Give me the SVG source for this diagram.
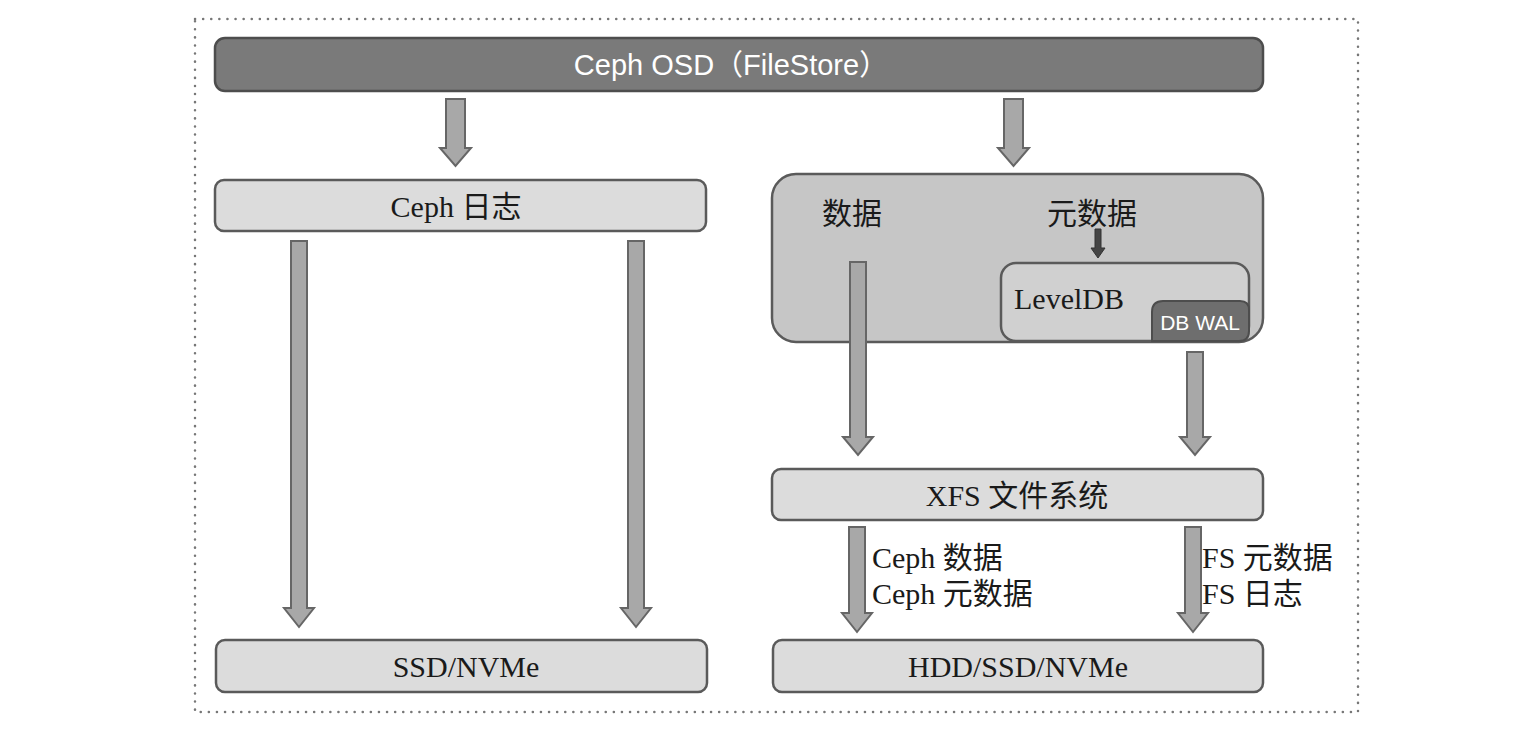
<svg xmlns="http://www.w3.org/2000/svg" width="1520" height="742" viewBox="0 0 1520 742">
<style>
.frame{fill:none;stroke:#777;stroke-width:2.5;stroke-dasharray:0.1 8;stroke-linecap:round}
.dark{fill:#7a7a7a;stroke:#4d4d4d;stroke-width:2.5}
.light{fill:#dcdcdc;stroke:#5a5a5a;stroke-width:2.5}
.mid{fill:#c6c6c6;stroke:#5a5a5a;stroke-width:2.5}
.lvl{fill:#d0d0d0;stroke:#5a5a5a;stroke-width:2.5}
.wal{fill:#6e6e6e;stroke:#4d4d4d;stroke-width:2}
.arr{fill:#a8a8a8;stroke:#666;stroke-width:2;stroke-linejoin:miter}
.sarr{fill:#444;stroke:#333;stroke-width:1}
.ts{font-family:"Liberation Sans","Noto Sans CJK SC",sans-serif}
.tr{font-family:"Liberation Serif","Noto Sans CJK SC",serif}
.wt{fill:#fff}
.bk{fill:#1a1a1a}
</style>
<rect x="0" y="0" width="1520" height="742" fill="#fff"/>
<rect class="frame" x="195" y="19" width="1163" height="693"/>

<g id="osd">
<rect class="dark" x="215" y="38" width="1048" height="53" rx="10"/>
<text class="ts wt" x="731" y="75" font-size="29" text-anchor="middle">Ceph OSD（FileStore）</text>
</g>
<g id="journal">
<rect class="light" x="215" y="180" width="491" height="51" rx="9"/>
<text class="tr bk" x="456" y="217" font-size="30" text-anchor="middle">Ceph 日志</text>
</g>
<g id="ssd">
<rect class="light" x="216" y="640" width="491" height="52" rx="9"/>
<text class="tr bk" x="466" y="677" font-size="30" text-anchor="middle">SSD/NVMe</text>
</g>
<g id="store">
<rect class="mid" x="772" y="174" width="491" height="168" rx="24"/>
<text class="ts bk" x="852" y="224" font-size="30" text-anchor="middle">数据</text>
<text class="ts bk" x="1092" y="224" font-size="30" text-anchor="middle">元数据</text>
</g>
<g id="leveldb">
<rect class="lvl" x="1001" y="263" width="248" height="78" rx="15"/>
<text class="tr bk" x="1014" y="309" font-size="30">LevelDB</text>
</g>
<g id="dbwal">
<path class="wal" d="M1163,301 H1240 Q1249,301 1249,310 V331 Q1249,341 1239,341 H1152 V312 Q1152,301 1163,301 Z"/>
<text class="ts wt" x="1200" y="330" font-size="21" text-anchor="middle">DB WAL</text>
</g>
<g id="xfs">
<rect class="light" x="772" y="469" width="491" height="51" rx="9"/>
<text class="tr bk" x="1017" y="506" font-size="30" text-anchor="middle">XFS 文件系统</text>
</g>
<g id="hdd">
<rect class="light" x="773" y="640" width="490" height="52" rx="9"/>
<text class="tr bk" x="1018" y="677" font-size="30" text-anchor="middle">HDD/SSD/NVMe</text>
</g>

<g id="connectors">
<path class="arr" d="M446,99 H465 V148 H471 L455.5,166 L440,148 H446 Z"/>
<path class="arr" d="M1004,99 H1023 V148 H1029 L1013.5,166 L998,148 H1004 Z"/>
<path class="arr" d="M291,241 H307 V608 H314 L299,627 L284,608 H291 Z"/>
<path class="arr" d="M628,241 H644 V608 H651 L636,627 L621,608 H628 Z"/>
<path class="sarr" d="M1095,229 H1101 V248 H1105 L1098,258 L1091,248 H1095 Z"/>
<path class="arr" d="M850,262 H866 V437 H873 L858,455 L843,437 H850 Z"/>
<path class="arr" d="M1187,352 H1203 V437 H1210 L1195,455 L1180,437 H1187 Z"/>
<path class="arr" d="M849,527 H865 V613 H872 L857,632 L842,613 H849 Z"/>
<path class="arr" d="M1185,527 H1201 V613 H1208 L1193,632 L1178,613 H1185 Z"/>
<text class="tr bk" x="872" y="568" font-size="30">Ceph 数据</text>
<text class="tr bk" x="872" y="604" font-size="30">Ceph 元数据</text>
<text class="tr bk" x="1202" y="568" font-size="30">FS 元数据</text>
<text class="tr bk" x="1202" y="604" font-size="30">FS 日志</text>
</g>
</svg>
